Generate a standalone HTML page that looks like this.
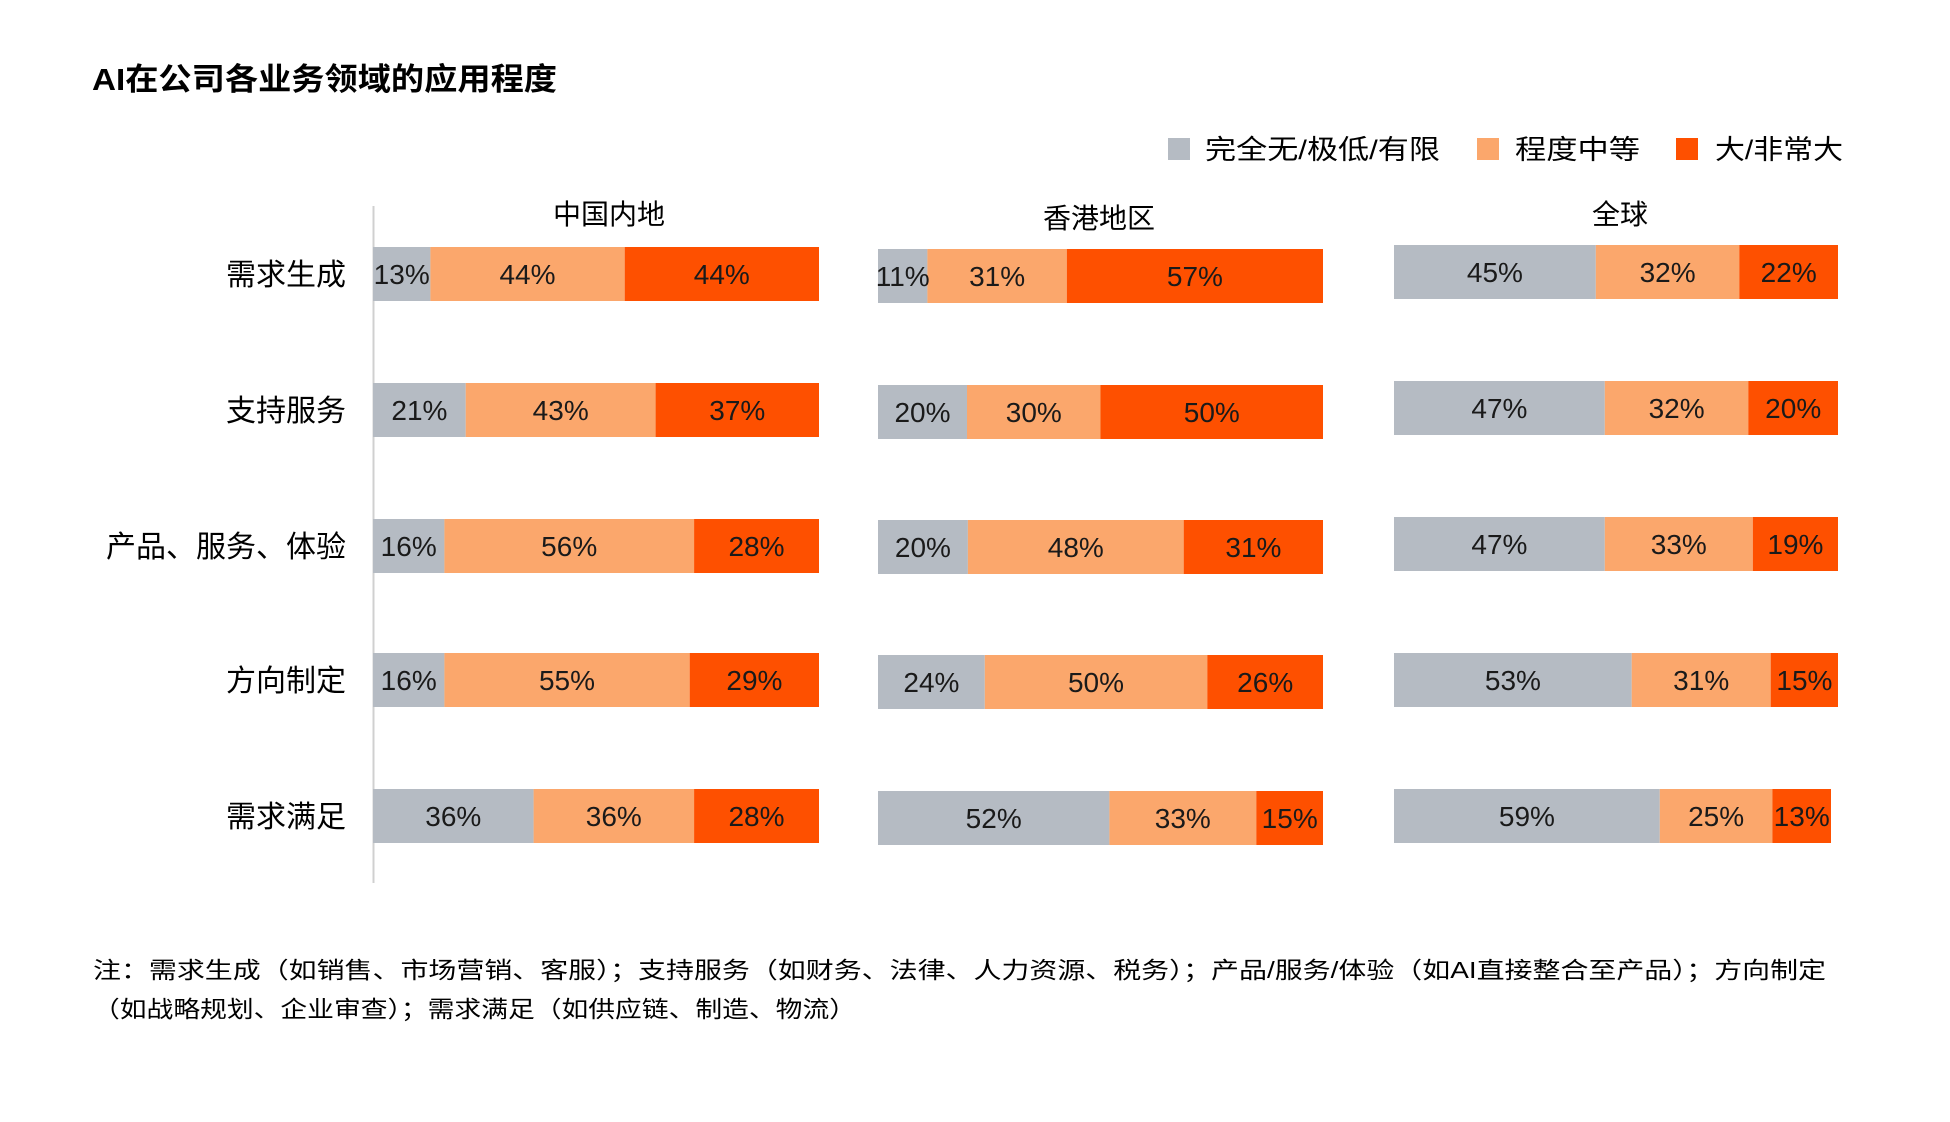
<!DOCTYPE html>
<html><head><meta charset="utf-8"><style>
html,body{margin:0;padding:0;background:#fff;}
svg{display:block;font-family:"Liberation Sans","Noto Sans CJK SC",sans-serif;}
</style></head><body>
<svg width="1950" height="1122" viewBox="0 0 1950 1122">
<rect width="1950" height="1122" fill="#fff"/>
<text x="92" y="90" font-size="31" font-weight="bold" fill="#000" textLength="465" lengthAdjust="spacingAndGlyphs">AI在公司各业务领域的应用程度</text>
<g font-size="27" fill="#000">
<rect x="1168" y="138" width="22" height="22" fill="#B5BBC3"/><text x="1205" y="159" textLength="235" lengthAdjust="spacingAndGlyphs">完全无/极低/有限</text>
<rect x="1477" y="138" width="22" height="22" fill="#FBA76C"/><text x="1515" y="159" textLength="125" lengthAdjust="spacingAndGlyphs">程度中等</text>
<rect x="1676" y="138" width="22" height="22" fill="#FE5000"/><text x="1715" y="159" textLength="128" lengthAdjust="spacingAndGlyphs">大/非常大</text>
</g>
<g font-size="28" fill="#000" text-anchor="middle">
<text x="609" y="224">中国内地</text>
<text x="1099" y="228">香港地区</text>
<text x="1620" y="224">全球</text>
</g>
<line x1="373.5" y1="206" x2="373.5" y2="883" stroke="#d0d0d0" stroke-width="2"/>
<g font-size="30" fill="#000" text-anchor="end">
<text x="346" y="285">需求生成</text>
<text x="346" y="421">支持服务</text>
<text x="346" y="557">产品、服务、体验</text>
<text x="346" y="691">方向制定</text>
<text x="346" y="827">需求满足</text>
</g>
<g>
<rect x="373" y="247" width="57.4" height="54" fill="#B5BBC3"/><rect x="430.4" y="247" width="194.3" height="54" fill="#FBA76C"/><rect x="624.7" y="247" width="194.3" height="54" fill="#FE5000"/>
<rect x="373" y="383" width="92.7" height="54" fill="#B5BBC3"/><rect x="465.7" y="383" width="189.9" height="54" fill="#FBA76C"/><rect x="655.6" y="383" width="163.4" height="54" fill="#FE5000"/>
<rect x="373" y="519" width="71.4" height="54" fill="#B5BBC3"/><rect x="444.4" y="519" width="249.8" height="54" fill="#FBA76C"/><rect x="694.1" y="519" width="124.9" height="54" fill="#FE5000"/>
<rect x="373" y="653" width="71.4" height="54" fill="#B5BBC3"/><rect x="444.4" y="653" width="245.3" height="54" fill="#FBA76C"/><rect x="689.7" y="653" width="129.3" height="54" fill="#FE5000"/>
<rect x="373" y="789" width="160.6" height="54" fill="#B5BBC3"/><rect x="533.6" y="789" width="160.6" height="54" fill="#FBA76C"/><rect x="694.1" y="789" width="124.9" height="54" fill="#FE5000"/>
</g>
<g>
<rect x="878" y="249" width="49.4" height="54" fill="#B5BBC3"/><rect x="927.4" y="249" width="139.4" height="54" fill="#FBA76C"/><rect x="1066.8" y="249" width="256.2" height="54" fill="#FE5000"/>
<rect x="878" y="385" width="89" height="54" fill="#B5BBC3"/><rect x="967" y="385" width="133.5" height="54" fill="#FBA76C"/><rect x="1100.5" y="385" width="222.5" height="54" fill="#FE5000"/>
<rect x="878" y="520" width="89.9" height="54" fill="#B5BBC3"/><rect x="967.9" y="520" width="215.8" height="54" fill="#FBA76C"/><rect x="1183.7" y="520" width="139.3" height="54" fill="#FE5000"/>
<rect x="878" y="655" width="106.8" height="54" fill="#B5BBC3"/><rect x="984.8" y="655" width="222.5" height="54" fill="#FBA76C"/><rect x="1207.3" y="655" width="115.7" height="54" fill="#FE5000"/>
<rect x="878" y="791" width="231.4" height="54" fill="#B5BBC3"/><rect x="1109.4" y="791" width="146.9" height="54" fill="#FBA76C"/><rect x="1256.3" y="791" width="66.7" height="54" fill="#FE5000"/>
</g>
<g>
<rect x="1394" y="245" width="201.8" height="54" fill="#B5BBC3"/><rect x="1595.8" y="245" width="143.5" height="54" fill="#FBA76C"/><rect x="1739.3" y="245" width="98.7" height="54" fill="#FE5000"/>
<rect x="1394" y="381" width="210.8" height="54" fill="#B5BBC3"/><rect x="1604.8" y="381" width="143.5" height="54" fill="#FBA76C"/><rect x="1748.3" y="381" width="89.7" height="54" fill="#FE5000"/>
<rect x="1394" y="517" width="210.8" height="54" fill="#B5BBC3"/><rect x="1604.8" y="517" width="148" height="54" fill="#FBA76C"/><rect x="1752.8" y="517" width="85.2" height="54" fill="#FE5000"/>
<rect x="1394" y="653" width="237.7" height="54" fill="#B5BBC3"/><rect x="1631.7" y="653" width="139" height="54" fill="#FBA76C"/><rect x="1770.7" y="653" width="67.3" height="54" fill="#FE5000"/>
<rect x="1394" y="789" width="265.8" height="54" fill="#B5BBC3"/><rect x="1659.8" y="789" width="112.6" height="54" fill="#FBA76C"/><rect x="1772.4" y="789" width="58.6" height="54" fill="#FE5000"/>
</g>
<g font-size="28" fill="#1a1a1a" text-anchor="middle">
<text x="401.7" y="284">13%</text><text x="527.5" y="284">44%</text><text x="721.8" y="284">44%</text>
<text x="419.4" y="420">21%</text><text x="560.7" y="420">43%</text><text x="737.3" y="420">37%</text>
<text x="408.7" y="556">16%</text><text x="569.2" y="556">56%</text><text x="756.5" y="556">28%</text>
<text x="408.7" y="690">16%</text><text x="567" y="690">55%</text><text x="754.4" y="690">29%</text>
<text x="453.3" y="826">36%</text><text x="613.8" y="826">36%</text><text x="756.5" y="826">28%</text>
<text x="902.7" y="286">11%</text><text x="997.1" y="286">31%</text><text x="1194.9" y="286">57%</text>
<text x="922.5" y="422">20%</text><text x="1033.8" y="422">30%</text><text x="1211.8" y="422">50%</text>
<text x="922.9" y="557">20%</text><text x="1075.8" y="557">48%</text><text x="1253.4" y="557">31%</text>
<text x="931.4" y="692">24%</text><text x="1096" y="692">50%</text><text x="1265.2" y="692">26%</text>
<text x="993.7" y="828">52%</text><text x="1182.8" y="828">33%</text><text x="1289.7" y="828">15%</text>
<text x="1494.9" y="282">45%</text><text x="1667.6" y="282">32%</text><text x="1788.7" y="282">22%</text>
<text x="1499.4" y="418">47%</text><text x="1676.6" y="418">32%</text><text x="1793.2" y="418">20%</text>
<text x="1499.4" y="554">47%</text><text x="1678.8" y="554">33%</text><text x="1795.4" y="554">19%</text>
<text x="1512.9" y="690">53%</text><text x="1701.2" y="690">31%</text><text x="1804.4" y="690">15%</text>
<text x="1526.9" y="826">59%</text><text x="1716.1" y="826">25%</text><text x="1801.7" y="826">13%</text>
</g>
<g font-size="23" fill="#000">
<text x="93" y="978" textLength="1733" lengthAdjust="spacingAndGlyphs">注：需求生成（如销售、市场营销、客服）；支持服务（如财务、法律、人力资源、税务）；产品/服务/体验（如AI直接整合至产品）；方向制定</text>
<text x="93" y="1017" textLength="763" lengthAdjust="spacingAndGlyphs">（如战略规划、企业审查）；需求满足（如供应链、制造、物流）</text>
</g>
</svg>
</body></html>
